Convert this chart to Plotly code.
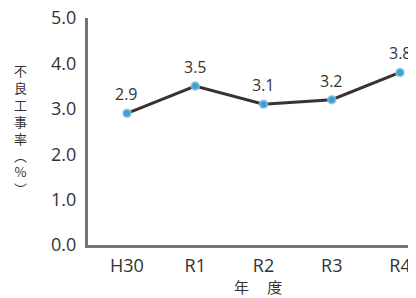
import plotly.graph_objects as go

years = ["H30", "R1", "R2", "R3", "R4"]
rates = [2.9, 3.5, 3.1, 3.2, 3.8]
y_ticks = [0, 1, 2, 3, 4, 5]
y_tick_labels = ["0.0", "1.0", "2.0", "3.0", "4.0", "5.0"]

FONT = "Open Sans, Noto Sans CJK JP, sans-serif"
TXT = "#333333"

fig = go.Figure()
fig.add_trace(go.Scatter(
    x=years, y=rates,
    mode="lines+markers",
    line=dict(color="#3a3232", width=3),
    marker=dict(size=8, color="#3d9fd3", line=dict(width=2, color="rgba(150,205,235,0.6)")),
    cliponaxis=False,
    showlegend=False,
))

annotations = [
    dict(x=x, y=v, xref="x", yref="y", text=f"{v:.1f}", showarrow=False,
         yshift=19, xanchor="center", yanchor="middle",
         font=dict(family=FONT, size=16, color=TXT))
    for x, v in zip(years, rates)
]
annotations += [
    dict(text="不<br>良<br>工<br>事<br>率<br>︵<br>%<br>︶", xref="paper", yref="paper",
         x=-0.207, y=0.507, xanchor="center", yanchor="middle", showarrow=False,
         font=dict(family="Noto Sans CJK JP", size=13, color=TXT)),
    dict(text="年　 度", xref="paper", yref="paper",
         x=0.518, y=-0.185, xanchor="center", yanchor="middle", showarrow=False,
         font=dict(family="Noto Sans CJK JP", size=15, color=TXT)),
]

fig.update_layout(
    width=416, height=298,
    margin=dict(l=80, r=8, t=10, b=61),
    paper_bgcolor="white", plot_bgcolor="white",
    font=dict(family=FONT, color=TXT),
    xaxis=dict(
        type="category", range=[-0.571, 4.234], automargin=False,
        showline=True, linecolor="#7d7070", linewidth=3,
        showgrid=False, zeroline=False, ticks="",
        tickfont=dict(family=FONT, size=18, color=TXT),
        ticklabelstandoff=2,
    ),
    yaxis=dict(
        range=[0, 5], tickvals=y_ticks, ticktext=y_tick_labels, automargin=False,
        showline=True, linecolor="#7d7070", linewidth=3,
        showgrid=False, zeroline=False, ticks="",
        tickfont=dict(family=FONT, size=18, color=TXT),
        ticklabelstandoff=5, ticklabeloverflow="allow",
    ),
    annotations=annotations,
)

fig.write_html("out.html")
